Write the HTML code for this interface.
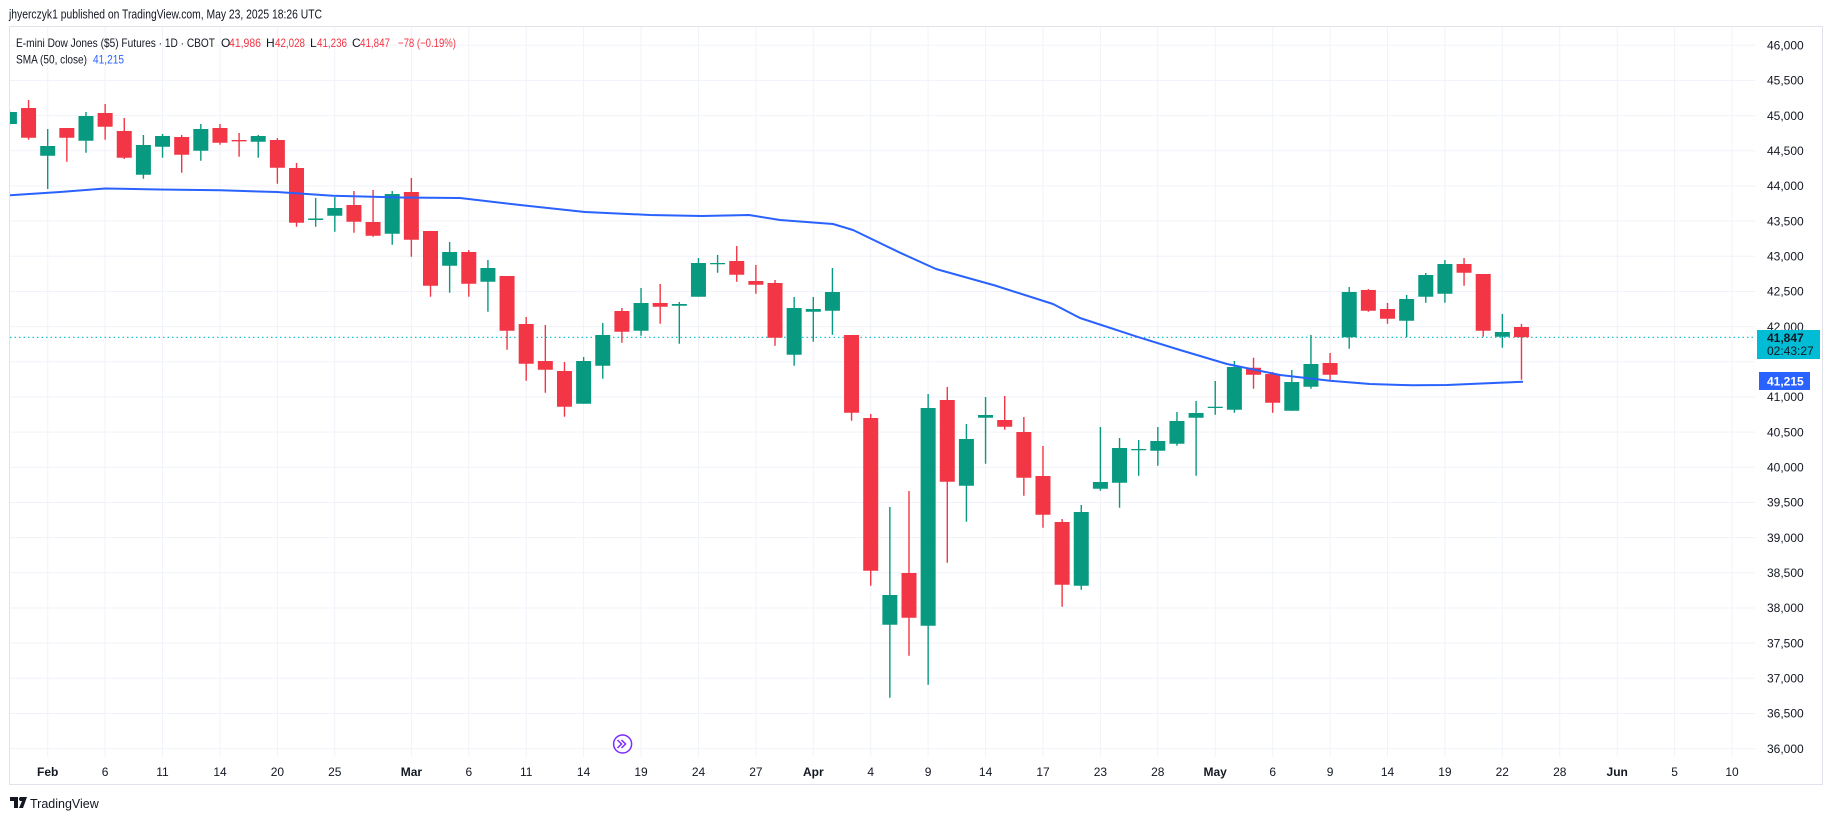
<!DOCTYPE html>
<html><head><meta charset="utf-8"><style>
html,body{margin:0;padding:0;background:#fff;}
svg{display:block;font-family:"Liberation Sans",sans-serif;}
</style></head><body>
<svg width="1835" height="820" viewBox="0 0 1835 820" xmlns="http://www.w3.org/2000/svg">
<rect width="1835" height="820" fill="#fff"/>
<text x="9" y="18.5" font-size="12.5" fill="#131722" textLength="313" lengthAdjust="spacingAndGlyphs">jhyerczyk1 published on TradingView.com, May 23, 2025 18:26 UTC</text>
<rect x="9.5" y="26.5" width="1813" height="758" fill="#fff" stroke="#e0e3eb" stroke-width="1"/>
<g stroke="#f0f3fa" stroke-width="1">
<line x1="10" x2="1755" y1="45.3" y2="45.3"/><line x1="10" x2="1755" y1="80.5" y2="80.5"/><line x1="10" x2="1755" y1="115.6" y2="115.6"/><line x1="10" x2="1755" y1="150.8" y2="150.8"/><line x1="10" x2="1755" y1="186" y2="186"/><line x1="10" x2="1755" y1="221.1" y2="221.1"/><line x1="10" x2="1755" y1="256.3" y2="256.3"/><line x1="10" x2="1755" y1="291.5" y2="291.5"/><line x1="10" x2="1755" y1="326.6" y2="326.6"/><line x1="10" x2="1755" y1="361.8" y2="361.8"/><line x1="10" x2="1755" y1="397" y2="397"/><line x1="10" x2="1755" y1="432.1" y2="432.1"/><line x1="10" x2="1755" y1="467.3" y2="467.3"/><line x1="10" x2="1755" y1="502.5" y2="502.5"/><line x1="10" x2="1755" y1="537.6" y2="537.6"/><line x1="10" x2="1755" y1="572.8" y2="572.8"/><line x1="10" x2="1755" y1="608" y2="608"/><line x1="10" x2="1755" y1="643.1" y2="643.1"/><line x1="10" x2="1755" y1="678.3" y2="678.3"/><line x1="10" x2="1755" y1="713.5" y2="713.5"/><line x1="10" x2="1755" y1="748.6" y2="748.6"/>
<g>
<line x1="47.7" x2="47.7" y1="27" y2="757"/><line x1="105.1" x2="105.1" y1="27" y2="757"/><line x1="162.5" x2="162.5" y1="27" y2="757"/><line x1="220" x2="220" y1="27" y2="757"/><line x1="277.4" x2="277.4" y1="27" y2="757"/><line x1="334.8" x2="334.8" y1="27" y2="757"/><line x1="411.4" x2="411.4" y1="27" y2="757"/><line x1="468.8" x2="468.8" y1="27" y2="757"/><line x1="526.2" x2="526.2" y1="27" y2="757"/><line x1="583.6" x2="583.6" y1="27" y2="757"/><line x1="641" x2="641" y1="27" y2="757"/><line x1="698.5" x2="698.5" y1="27" y2="757"/><line x1="755.9" x2="755.9" y1="27" y2="757"/><line x1="813.3" x2="813.3" y1="27" y2="757"/><line x1="870.7" x2="870.7" y1="27" y2="757"/><line x1="928.1" x2="928.1" y1="27" y2="757"/><line x1="985.6" x2="985.6" y1="27" y2="757"/><line x1="1043" x2="1043" y1="27" y2="757"/><line x1="1100.4" x2="1100.4" y1="27" y2="757"/><line x1="1157.8" x2="1157.8" y1="27" y2="757"/><line x1="1215.2" x2="1215.2" y1="27" y2="757"/><line x1="1272.7" x2="1272.7" y1="27" y2="757"/><line x1="1330.1" x2="1330.1" y1="27" y2="757"/><line x1="1387.5" x2="1387.5" y1="27" y2="757"/><line x1="1444.9" x2="1444.9" y1="27" y2="757"/><line x1="1502.3" x2="1502.3" y1="27" y2="757"/><line x1="1559.8" x2="1559.8" y1="27" y2="757"/><line x1="1617.2" x2="1617.2" y1="27" y2="757"/><line x1="1674.6" x2="1674.6" y1="27" y2="757"/><line x1="1732" x2="1732" y1="27" y2="757"/>
</g></g>
<clipPath id="c"><rect x="10" y="27" width="1745" height="730"/></clipPath>
<g clip-path="url(#c)">
<line x1="10" x2="1755" y1="337.3" y2="337.3" stroke="#00bcd4" stroke-width="1.2" stroke-dasharray="1.5 3"/>
<path fill="none" stroke="#089981" stroke-width="1.4" d="M9.42 110V126M47.7 129V189M85.98 112V152.7M143.4 135V178.7M162.54 134V157.7M200.82 124V160.7M258.24 135V157.7M315.66 198V226.7M334.8 197V231.7M392.22 191V244.7M449.64 242V292.7M487.92 260V311.7M583.62 357V403.7M602.76 323V378.7M641.04 288V335.7M679.32 302V343.7M698.46 258V296.7M717.6 255V272.7M794.16 297V365.7M813.3 297V341.7M832.44 268V334.7M889.86 507V697.7M928.14 394V684.7M966.42 424V521.7M985.56 397V463.7M1081.26 505V589.7M1100.4 427V490.7M1119.54 438V507.7M1138.68 440V475.7M1157.82 427V465.7M1176.96 412V445.7M1196.1 401V475.7M1215.24 381V414.7M1234.38 361V412.7M1291.8 370V410.7M1310.94 335V388.7M1349.22 287V348.7M1406.64 295V337.3M1425.78 273V302.7M1444.92 260V302.7M1502.34 314V347.7"/>
<path fill="#089981" d="M1.92 112H16.92V124H1.92ZM40.2 146H55.2V155.7H40.2ZM78.48 116H93.48V140.7H78.48ZM135.9 145H150.9V174.7H135.9ZM155.04 136H170.04V146.7H155.04ZM193.32 129H208.32V150.7H193.32ZM250.74 136H265.74V141.7H250.74ZM308.16 218.5H323.16V220H308.16ZM327.3 208H342.3V215.7H327.3ZM384.72 194H399.72V233.7H384.72ZM442.14 252H457.14V265.7H442.14ZM480.42 268H495.42V281.7H480.42ZM576.12 361H591.12V403.7H576.12ZM595.26 335H610.26V365.7H595.26ZM633.54 303H648.54V330.7H633.54ZM671.82 304H686.82V305.7H671.82ZM690.96 263H705.96V296.7H690.96ZM710.1 263H725.1V264.3H710.1ZM786.66 308H801.66V354.7H786.66ZM805.8 309H820.8V311.7H805.8ZM824.94 292H839.94V310.7H824.94ZM882.36 595H897.36V624.7H882.36ZM920.64 408H935.64V625.7H920.64ZM958.92 439H973.92V485.7H958.92ZM978.06 415H993.06V417.7H978.06ZM1073.76 512H1088.76V585.7H1073.76ZM1092.9 482H1107.9V488.7H1092.9ZM1112.04 448H1127.04V482.7H1112.04ZM1131.18 449H1146.18V450.3H1131.18ZM1150.32 441H1165.32V450.7H1150.32ZM1169.46 421H1184.46V443.7H1169.46ZM1188.6 413H1203.6V417.7H1188.6ZM1207.74 406.7H1222.74V408H1207.74ZM1226.88 367H1241.88V409.7H1226.88ZM1284.3 382H1299.3V410.7H1284.3ZM1303.44 364H1318.44V386.7H1303.44ZM1341.72 292H1356.72V337.3H1341.72ZM1399.14 299H1414.14V320.7H1399.14ZM1418.28 275H1433.28V296.7H1418.28ZM1437.42 264H1452.42V293.7H1437.42ZM1494.84 332H1509.84V336.7H1494.84Z"/>
<path fill="none" stroke="#f23645" stroke-width="1.4" d="M28.56 100V139.7M66.84 128V161.7M105.12 104V139.7M124.26 118V159M181.68 135V172.7M219.96 124V144.7M239.1 133V156.7M277.38 138V183.7M296.52 163V226.7M353.94 191V232.7M373.08 190V236.7M411.36 178V256.7M430.5 231V296.7M468.78 250V296.7M507.06 276V349.7M526.2 317V380.7M545.34 325V392.7M564.48 362V416.7M621.9 308V342.7M660.18 284V323.7M736.74 246V281.7M755.88 265V293.7M775.02 280V345.7M851.58 335V420.7M870.72 414V585.7M909 491V655.7M947.28 387V562.7M1004.7 396V429.7M1023.84 417V495.7M1042.98 446V527.7M1062.12 519V606.7M1253.52 357.7V388.7M1272.66 372V412.7M1330.08 353V380.7M1368.36 289V311.7M1387.5 303V323.7M1464.06 258V285.7M1483.2 274V336.7M1521.48 324V379.7"/>
<path fill="#f23645" d="M21.06 108H36.06V137.7H21.06ZM59.34 128H74.34V137.7H59.34ZM97.62 113H112.62V126.7H97.62ZM116.76 131H131.76V157.7H116.76ZM174.18 137H189.18V154.7H174.18ZM212.46 128H227.46V142.7H212.46ZM231.6 140H246.6V141.4H231.6ZM269.88 140H284.88V167.7H269.88ZM289.02 168H304.02V222.7H289.02ZM346.44 205H361.44V221.7H346.44ZM365.58 222H380.58V235.7H365.58ZM403.86 192H418.86V239.7H403.86ZM423 231H438V285.7H423ZM461.28 252H476.28V283.7H461.28ZM499.56 276H514.56V330.7H499.56ZM518.7 324H533.7V363.7H518.7ZM537.84 361H552.84V369.7H537.84ZM556.98 371H571.98V406.7H556.98ZM614.4 311H629.4V331.7H614.4ZM652.68 303H667.68V306.7H652.68ZM729.24 261H744.24V274.7H729.24ZM748.38 281H763.38V284.7H748.38ZM767.52 283H782.52V337.7H767.52ZM844.08 335H859.08V412.7H844.08ZM863.22 418H878.22V570.7H863.22ZM901.5 573H916.5V617.7H901.5ZM939.78 400H954.78V481.7H939.78ZM997.2 420H1012.2V426.7H997.2ZM1016.34 432H1031.34V477.7H1016.34ZM1035.48 476H1050.48V514.7H1035.48ZM1054.62 522H1069.62V584.7H1054.62ZM1246.02 367.7H1261.02V374.7H1246.02ZM1265.16 374H1280.16V402.7H1265.16ZM1322.58 363H1337.58V374.7H1322.58ZM1360.86 290H1375.86V310.7H1360.86ZM1380 309H1395V318.7H1380ZM1456.56 264H1471.56V272.7H1456.56ZM1475.7 274H1490.7V330.7H1475.7ZM1513.98 327H1528.98V337.3H1513.98Z"/>
<polyline fill="none" stroke="#2962ff" stroke-width="2" stroke-linejoin="round" points="10,195.3 60,192 105,188.5 160,189.5 220,190.3 277,192 333,195.7 400,197.5 460,198 520,205 585,212 650,215 702,216 749,215 780,220 833,224 853,230 900,252.7 936,269 995,285.5 1053,304 1080,318 1137,336.7 1180,350 1227,364 1280,375 1330,380.7 1370,384 1413,385.3 1447,385 1523,381.7"/>
</g>
<g font-size="12" fill="#131722">
<text x="16" y="47" textLength="199" lengthAdjust="spacingAndGlyphs">E-mini Dow Jones ($5) Futures · 1D · CBOT</text>
<text x="221" y="47">O</text><text x="229" y="47" fill="#f23645" textLength="32" lengthAdjust="spacingAndGlyphs">41,986</text>
<text x="266" y="47">H</text><text x="275" y="47" fill="#f23645" textLength="30" lengthAdjust="spacingAndGlyphs">42,028</text>
<text x="310" y="47">L</text><text x="317" y="47" fill="#f23645" textLength="30" lengthAdjust="spacingAndGlyphs">41,236</text>
<text x="352" y="47">C</text><text x="360" y="47" fill="#f23645" textLength="30" lengthAdjust="spacingAndGlyphs">41,847</text>
<text x="398" y="47" fill="#f23645" textLength="58" lengthAdjust="spacingAndGlyphs">−78 (−0.19%)</text>
<text x="16" y="63.5" textLength="71" lengthAdjust="spacingAndGlyphs">SMA (50, close)</text>
<text x="93" y="63.5" fill="#2962ff" textLength="31" lengthAdjust="spacingAndGlyphs">41,215</text>
</g>
<g font-size="12" fill="#131722" text-anchor="start">
<text x="1767" y="49.5">46,000</text><text x="1767" y="84.7">45,500</text><text x="1767" y="119.8">45,000</text><text x="1767" y="155">44,500</text><text x="1767" y="190.2">44,000</text><text x="1767" y="225.3">43,500</text><text x="1767" y="260.5">43,000</text><text x="1767" y="295.7">42,500</text><text x="1767" y="330.8">42,000</text><text x="1767" y="401.2">41,000</text><text x="1767" y="436.3">40,500</text><text x="1767" y="471.5">40,000</text><text x="1767" y="506.7">39,500</text><text x="1767" y="541.8">39,000</text><text x="1767" y="577">38,500</text><text x="1767" y="612.2">38,000</text><text x="1767" y="647.3">37,500</text><text x="1767" y="682.5">37,000</text><text x="1767" y="717.7">36,500</text><text x="1767" y="752.8">36,000</text>
</g>
<rect x="1757" y="330" width="63" height="29" fill="#00bcd4"/>
<text x="1767" y="342" font-size="12" fill="#131722" font-weight="bold">41,847</text>
<text x="1767" y="355" font-size="12" fill="#131722">02:43:27</text>
<rect x="1759" y="372" width="51" height="18" fill="#2962ff"/>
<text x="1767" y="385.5" font-size="12" fill="#fff" font-weight="bold">41,215</text>
<g font-size="12" fill="#131722" text-anchor="middle">
<text x="47.7" y="776" font-weight="bold">Feb</text><text x="105.1" y="776">6</text><text x="162.5" y="776">11</text><text x="220" y="776">14</text><text x="277.4" y="776">20</text><text x="334.8" y="776">25</text><text x="411.4" y="776" font-weight="bold">Mar</text><text x="468.8" y="776">6</text><text x="526.2" y="776">11</text><text x="583.6" y="776">14</text><text x="641" y="776">19</text><text x="698.5" y="776">24</text><text x="755.9" y="776">27</text><text x="813.3" y="776" font-weight="bold">Apr</text><text x="870.7" y="776">4</text><text x="928.1" y="776">9</text><text x="985.6" y="776">14</text><text x="1043" y="776">17</text><text x="1100.4" y="776">23</text><text x="1157.8" y="776">28</text><text x="1215.2" y="776" font-weight="bold">May</text><text x="1272.7" y="776">6</text><text x="1330.1" y="776">9</text><text x="1387.5" y="776">14</text><text x="1444.9" y="776">19</text><text x="1502.3" y="776">22</text><text x="1559.8" y="776">28</text><text x="1617.2" y="776" font-weight="bold">Jun</text><text x="1674.6" y="776">5</text><text x="1732" y="776">10</text>
</g>
<circle cx="622.6" cy="744" r="9" fill="#fff" stroke="#7b2cff" stroke-width="1.5"/>
<path d="M617.5 740l4 4-4 4M621.5 740l4 4-4 4" fill="none" stroke="#7b2cff" stroke-width="1.5"/>
<g fill="#131722">
<rect x="10" y="797" width="8" height="4"/><rect x="14" y="797" width="4" height="11"/>
<path d="M20 797h7l-4 11h-4l3-7h-2z"/>
<circle cx="21" cy="799" r="2"/>
<text x="30" y="808" font-size="12.5">TradingView</text>
</g>
</svg>
</body></html>
